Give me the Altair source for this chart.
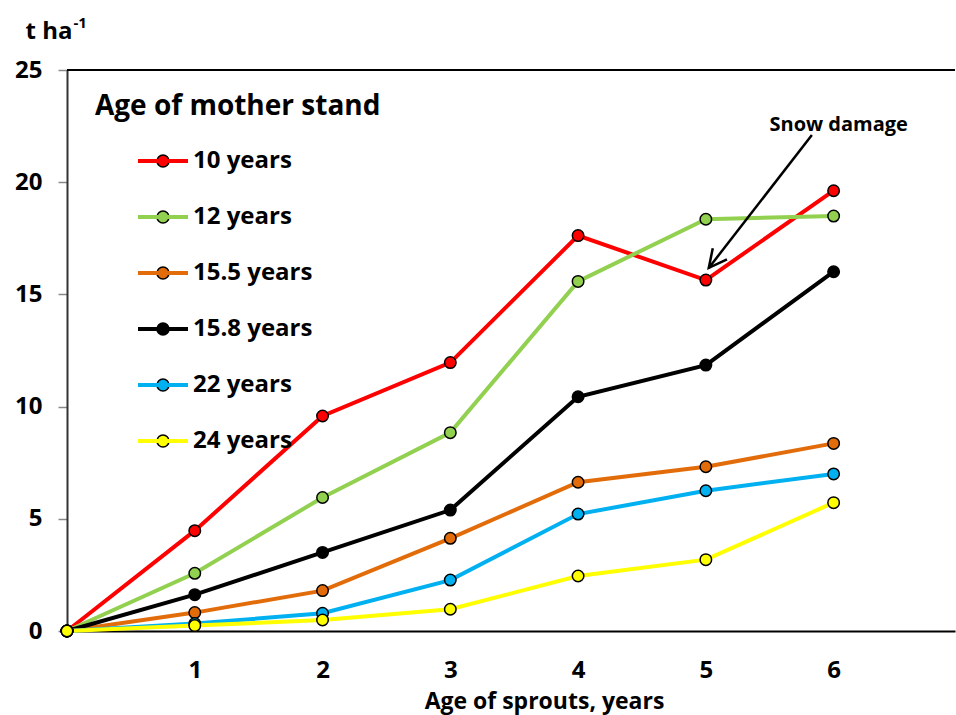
import altair as alt
import pandas as pd

# ---- data ----
ages = [0, 1, 2, 3, 4, 5, 6]
series_names = ["10 years", "12 years", "15.5 years", "15.8 years", "22 years", "24 years"]
series_colors = ["#FF0000", "#92D050", "#E36C0A", "#000000", "#00B0F0", "#FFFF00"]
v10 = [0, 4.47, 9.58, 11.96, 17.62, 15.64, 19.62]
v12 = [0, 2.57, 5.95, 8.84, 15.58, 18.35, 18.49]
v155 = [0, 0.82, 1.80, 4.13, 6.63, 7.32, 8.36]
v158 = [0, 1.62, 3.50, 5.39, 10.44, 11.85, 16.01]
v22 = [0, 0.33, 0.79, 2.27, 5.21, 6.25, 7.00]
v24 = [0, 0.24, 0.49, 0.97, 2.45, 3.18, 5.72]
x_ticks = [1, 2, 3, 4, 5, 6]
y_ticks = [0, 5, 10, 15, 20, 25]

# annotation (data units)
legend_title = "Age of mother stand"
legend_title_pos = [0.219, 23.0]
note_text = "Snow damage"
note_pos = [6.04, 22.28]
arrow_start = [5.83, 22.1]
arrow_end = [5.023, 16.18]
unit_sup = "-1"
unit_sup_pos = [0.05, 26.85]

FONT = "Open Sans"

rows = []
for name, vals in zip(series_names, [v10, v12, v155, v158, v22, v24]):
    for a, v in zip(ages, vals):
        rows.append({"age": a, "value": v, "series": name})
df = pd.DataFrame(rows)

x_enc = alt.X(
    "age:Q",
    scale=alt.Scale(domain=[0, 6.95], nice=False, zero=False),
    axis=alt.Axis(
        values=x_ticks, format="d", tickSize=0, grid=False,
        domainColor="#000000", domainWidth=2,
        labelFont=FONT, labelFontSize=24, labelFontWeight="bold", labelColor="#000000",
        labelBaseline="alphabetic", labelPadding=46,
        title="Age of sprouts, years", titleFont=FONT, titleFontSize=23,
        titleFontWeight="bold", titleColor="#000000",
        titleX=477, titleY=77, titleBaseline="alphabetic", titleAlign="center",
    ),
)
y_enc = alt.Y(
    "value:Q",
    scale=alt.Scale(domain=[0, 25], nice=False),
    axis=alt.Axis(
        values=y_ticks, format="d", tickSize=9, tickColor="#888888", tickWidth=1.5, grid=False,
        domainColor="#333333", domainWidth=2,
        labelFont=FONT, labelFontSize=24, labelFontWeight="bold", labelColor="#000000",
        labelPadding=16,
        title="t ha", titleFont=FONT, titleFontSize=24, titleFontWeight="bold",
        titleColor="#000000", titleAngle=0, titleX=-42, titleY=-32,
        titleAlign="left", titleBaseline="alphabetic",
    ),
)

color_scale = alt.Scale(domain=series_names, range=series_colors)

common_legend = dict(
    orient="none", legendX=69, legendY=64, title=None, padding=0, rowPadding=17,
    labelFont=FONT, labelFontSize=24, labelFontWeight="bold",
    labelColor="#000000", labelOffset=3,
)

lines = alt.Chart(df).mark_line(strokeWidth=4).encode(
    x=x_enc, y=y_enc,
    color=alt.Color("series:N", scale=color_scale, sort=series_names,
                    legend=alt.Legend(symbolType="stroke", symbolStrokeWidth=4,
                                      symbolSize=2500, **common_legend)),
)

circle_path = "M-0.229,0 A0.229,0.229 0 1,1 0.229,0 A0.229,0.229 0 1,1 -0.229,0 Z"
points = alt.Chart(df).mark_point(filled=True, size=132, stroke="#000000", strokeWidth=1.5, opacity=1).encode(
    x="age:Q", y="value:Q",
    fill=alt.Fill("series:N", scale=color_scale, sort=series_names,
                  legend=alt.Legend(symbolType=circle_path, symbolStrokeColor="#000000",
                                    symbolStrokeWidth=1.5, symbolSize=2756,
                                    labelOpacity=0, **common_legend)),
)

top_df = pd.DataFrame({"y": [25]})
top_line = alt.Chart(top_df).mark_rule(color="#000000", strokeWidth=2).encode(y=alt.Y("y:Q"))

title_df = pd.DataFrame({"x": [legend_title_pos[0]], "y": [legend_title_pos[1]], "t": [legend_title]})
title_txt = alt.Chart(title_df).mark_text(
    align="left", baseline="alphabetic", font=FONT, fontSize=28, fontWeight="bold", color="#000000"
).encode(x="x:Q", y="y:Q", text="t:N")

sup_df = pd.DataFrame({"x": [unit_sup_pos[0]], "y": [unit_sup_pos[1]], "t": [unit_sup]})
sup_txt = alt.Chart(sup_df).mark_text(
    align="left", baseline="alphabetic", font=FONT, fontSize=15, fontWeight="bold", color="#000000"
).encode(x="x:Q", y="y:Q", text="t:N")

note_df = pd.DataFrame({"x": [note_pos[0]], "y": [note_pos[1]], "t": [note_text]})
note_txt = alt.Chart(note_df).mark_text(
    align="center", baseline="alphabetic", font=FONT, fontSize=20, fontWeight="bold", color="#000000"
).encode(x="x:Q", y="y:Q", text="t:N")

arrow_df = pd.DataFrame({"x": [arrow_start[0]], "y": [arrow_start[1]],
                         "x2": [arrow_end[0]], "y2": [arrow_end[1]]})
arrow = alt.Chart(arrow_df).mark_rule(color="#000000", strokeWidth=2.5).encode(
    x="x:Q", y="y:Q", x2="x2:Q", y2="y2:Q")
head_df = pd.DataFrame({"x": [arrow_end[0]], "y": [arrow_end[1]]})
head = alt.Chart(head_df).mark_point(
    shape="M-0.5,-1 L0,0 L0.5,-1", filled=False, size=1300, angle=38,
    stroke="#000000", strokeWidth=2.5, opacity=1,
).encode(x="x:Q", y="y:Q")

chart = alt.layer(top_line, lines, points, title_txt, sup_txt, arrow, head, note_txt).properties(
    width=888, height=561,
    padding={"left": 67, "top": 70, "right": 1, "bottom": 84},
    autosize=alt.AutoSizeParams(type="none"),
    background="white",
).configure_view(stroke=None).resolve_scale(color="independent")

chart.save("out.html", embed_options={"renderer": "svg", "actions": False})
